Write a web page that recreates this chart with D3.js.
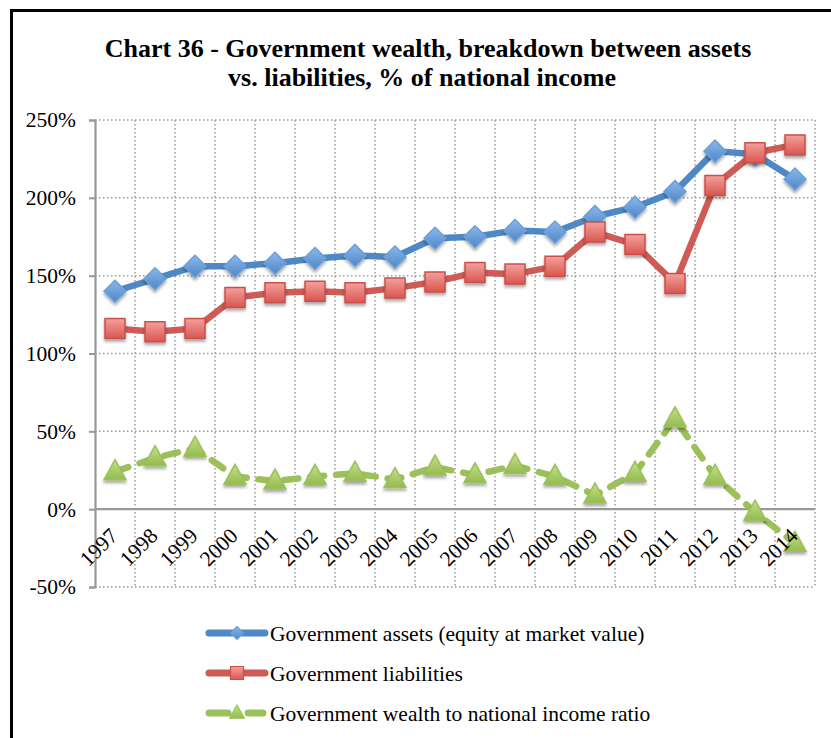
<!DOCTYPE html>
<html>
<head>
<meta charset="utf-8">
<script src="https://cdn.jsdelivr.net/npm/d3@7"></script>
<style>
  html, body { margin: 0; padding: 0; background: #fff; }
  svg { display: block; }
</style>
</head>
<body>
<svg id="chart" width="831" height="738"></svg>
<script>
// Years on the category axis
const years = ["1997","1998","1999","2000","2001","2002","2003","2004","2005",
               "2006","2007","2008","2009","2010","2011","2012","2013","2014"];

// Series values, % of national income
const assets      = [140, 148, 156, 156, 158, 161, 163, 162, 174, 175, 179, 178, 188, 194, 204, 230, 228, 212];
const liabilities = [116, 114, 116, 136, 139, 140, 139, 142, 146, 152, 151, 156, 178, 170, 145, 208, 229, 234];
const wealth      = [ 24,  33,  39,  21,  18,  21,  23,  19,  27,  22,  28,  21,   9,  23,  58,  21,  -2, -22];

// Y-axis ticks
const yTicks = [-50, 0, 50, 100, 150, 200, 250];

const seriesNames = [
  "Government assets (equity at market value)",
  "Government liabilities",
  "Government wealth to national income ratio"
];

const FONT = "'Liberation Serif', 'Times New Roman', serif";
const BODY_SIZE = "21.5px";

const svg = d3.select("#chart");
const defs = svg.append("defs");

// soft drop shadow under markers
const shadow = defs.append("filter").attr("id", "shadow")
  .attr("x", "-50%").attr("y", "-50%").attr("width", "200%").attr("height", "200%");
shadow.append("feDropShadow").attr("dx", 0).attr("dy", 2.5).attr("stdDeviation", 1.6)
  .attr("flood-color", "#000").attr("flood-opacity", 0.35);

function grad(id, top, bottom) {
  const g = defs.append("linearGradient").attr("id", id)
    .attr("x1", 0).attr("y1", 0).attr("x2", 0).attr("y2", 1);
  g.append("stop").attr("offset", "0%").attr("stop-color", top);
  g.append("stop").attr("offset", "100%").attr("stop-color", bottom);
}
grad("gBlue", "#8ab8ec", "#4f86c6");
grad("gRed", "#f4a09c", "#d95650");
grad("gGreen", "#c4e08a", "#93bb4f");

const series = [
  { name: seriesNames[0], values: assets, line: "#4f88c6", fill: "url(#gBlue)", edge: "#6d9fd8", shape: "diamond", dash: null },
  { name: seriesNames[1], values: liabilities, line: "#cf5b56", fill: "url(#gRed)", edge: "#c9504b", shape: "square", dash: null },
  { name: seriesNames[2], values: wealth, line: "#9cc15a", fill: "url(#gGreen)", edge: "#9cc15a", shape: "triangle", dash: "14,12" }
];

// Outer frame
svg.append("rect").attr("x", 11.5).attr("y", 10.5).attr("width", 840).attr("height", 760)
  .attr("fill", "none").attr("stroke", "#000").attr("stroke-width", 3);

// Title
const title = svg.append("text").attr("text-anchor", "middle")
  .style("font-family", FONT).style("font-size", "26px").style("font-weight", "bold");
title.append("tspan").attr("x", 428).attr("y", 57).text("Chart 36 - Government wealth, breakdown between assets");
title.append("tspan").attr("x", 422).attr("y", 86).text("vs. liabilities, % of national income");

// Scales
const x = d3.scaleBand().domain(years).range([95, 815]);
const y = d3.scaleLinear().domain([-50, 250]).range([587, 120]);
const cx = d => x(d) + x.bandwidth() / 2;

// Gridlines (dotted)
const grid = svg.append("g");
grid.selectAll("line.h").data(yTicks.filter(t => t !== 0)).join("line")
  .attr("x1", 95).attr("x2", 815).attr("y1", d => y(d)).attr("y2", d => y(d))
  .attr("stroke", "#9a9a9a").attr("stroke-width", 1.5).attr("stroke-dasharray", "1.5,2.5");
const vEdges = years.map(d => x(d) + x.bandwidth()); // right edge of each band
grid.selectAll("line.v").data(vEdges).join("line")
  .attr("x1", d => d).attr("x2", d => d).attr("y1", 120).attr("y2", 587)
  .attr("stroke", "#9a9a9a").attr("stroke-width", 1.5).attr("stroke-dasharray", "1.5,2.5");

// Y axis
const yAxis = svg.append("g").attr("transform", "translate(95,0)")
  .call(d3.axisLeft(y).tickValues(yTicks).tickFormat(d => d + "%").tickSize(6).tickPadding(13));
yAxis.attr("font-family", null).attr("font-size", null);
yAxis.select(".domain").attr("stroke", "#999").attr("stroke-width", 2.2);
yAxis.selectAll(".tick line").attr("stroke", "#999").attr("stroke-width", 2);
yAxis.selectAll(".tick text").style("font-size", BODY_SIZE)
  .style("font-family", FONT).attr("fill", "#000");

// Zero line
svg.append("line").attr("x1", 95).attr("x2", 815).attr("y1", y(0)).attr("y2", y(0))
  .attr("stroke", "#999").attr("stroke-width", 2.2);

// Marker shapes
function markerPath(shape, s) {
  if (shape === "diamond") return `M0,${-s}L${s},0L0,${s}L${-s},0Z`;
  if (shape === "square") return `M${-s},${-s}H${s}V${s}H${-s}Z`;
  return `M0,${-s * 1.15}L${s * 1.05},${s * 0.75}H${-s * 1.05}Z`;
}

const line = d3.line().x((d, i) => cx(years[i])).y(d => y(d));

series.forEach(s => {
  const g = svg.append("g");
  g.append("path").attr("d", line(s.values))
    .attr("fill", "none").attr("stroke", s.line).attr("stroke-width", 6.5)
    .attr("stroke-linejoin", "round").attr("stroke-linecap", "round")
    .attr("stroke-dasharray", s.dash);
  const size = s.shape === "diamond" ? 11 : (s.shape === "square" ? 10 : 10.5);
  g.selectAll("path.m").data(s.values).join("path")
    .attr("transform", (d, i) => `translate(${cx(years[i])},${y(d)})`)
    .attr("d", markerPath(s.shape, size))
    .attr("fill", s.fill).attr("stroke", s.edge).attr("stroke-width", 1.5)
    .attr("filter", "url(#shadow)");
});

// X category labels (rotated), drawn above the series
svg.append("g").selectAll("text").data(years).join("text")
  .attr("text-anchor", "end")
  .attr("transform", d => `translate(${cx(d) + 4},${y(0) + 28}) rotate(-45)`)
  .style("font-family", FONT).style("font-size", BODY_SIZE)
  .text(d => d);

// Legend
const legend = svg.append("g");
const legendY = [633, 673, 713];
series.forEach((s, i) => {
  const ly = legendY[i];
  const lg = legend.append("g");
  if (s.dash) {
    lg.append("line").attr("x1", 209).attr("x2", 228).attr("y1", ly).attr("y2", ly)
      .attr("stroke", s.line).attr("stroke-width", 7).attr("stroke-linecap", "round");
    lg.append("line").attr("x1", 248).attr("x2", 263).attr("y1", ly).attr("y2", ly)
      .attr("stroke", s.line).attr("stroke-width", 7).attr("stroke-linecap", "round");
  } else {
    lg.append("line").attr("x1", 209).attr("x2", 265).attr("y1", ly).attr("y2", ly)
      .attr("stroke", s.line).attr("stroke-width", 7).attr("stroke-linecap", "round");
  }
  const ms = s.shape === "diamond" ? 6.5 : (s.shape === "square" ? 6.5 : 7);
  lg.append("path").attr("transform", `translate(237,${ly})`)
    .attr("d", markerPath(s.shape, ms))
    .attr("fill", s.fill).attr("stroke", s.edge).attr("stroke-width", 1.2);
  lg.append("text").attr("x", 270).attr("y", ly + 8)
    .style("font-family", FONT).style("font-size", BODY_SIZE).text(s.name);
});
</script>
</body>
</html>
